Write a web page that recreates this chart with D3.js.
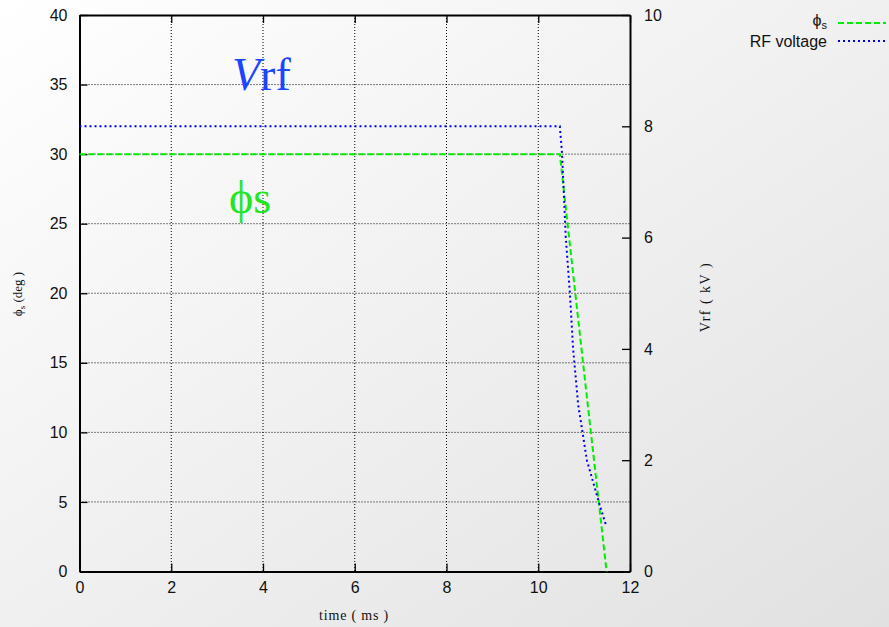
<!DOCTYPE html>
<html>
<head>
<meta charset="utf-8">
<script src="https://d3js.org/d3.v7.min.js"></script>
<style>
  body { margin: 0; padding: 0; }
  svg { display: block; }
</style>
</head>
<body>
<div id="chart"></div>
<script>

// synchronous phase (deg) vs time (ms)
var phiTime = [0, 10.47, 11.0, 11.49];
var phiDeg  = [30, 30, 14.3, 0];

// RF voltage (kV) vs time (ms)
var rfTime = [0, 10.47, 10.52, 10.6, 10.69, 10.76, 10.87, 11.06, 11.32, 11.47];
var rfKV   = [8, 8, 7.5, 6, 5, 4, 3, 2, 1.25, 0.85];

var xTicks  = [0, 2, 4, 6, 8, 10, 12];
var yTicks  = [0, 5, 10, 15, 20, 25, 30, 35, 40];
var y2Ticks = [0, 2, 4, 6, 8, 10];

var W = 889, H = 627;
var margin = {top: 15, right: 259, bottom: 55.5, left: 79.5},
    width = W - margin.left - margin.right,
    height = H - margin.top - margin.bottom;

var svg = d3.select("#chart").append("svg")
    .attr("width", W)
    .attr("height", H);

// background gradient
var grad = svg.append("defs").append("linearGradient")
    .attr("id", "bg")
    .attr("x1", "0%").attr("y1", "0%")
    .attr("x2", "100%").attr("y2", "100%");
grad.append("stop").attr("offset", "0%").attr("stop-color", "#ffffff");
grad.append("stop").attr("offset", "100%").attr("stop-color", "#e1e1e1");
svg.append("rect").attr("width", W).attr("height", H).attr("fill", "url(#bg)");

var g = svg.append("g")
    .attr("transform", "translate(" + margin.left + "," + margin.top + ")");

var x = d3.scaleLinear().domain([0, 12]).range([0, width]);
var y = d3.scaleLinear().domain([0, 40]).range([height, 0]);
var y2 = d3.scaleLinear().domain([0, 10]).range([height, 0]);

var tickFont = "'Liberation Sans', Arial, sans-serif";
var serif = "'Liberation Serif', 'Times New Roman', serif";

// grid lines
g.append("g").selectAll("line")
    .data(xTicks.filter(function(d) { return d > 0 && d < 12; }))
  .enter().append("line")
    .attr("x1", function(d) { return x(d); })
    .attr("x2", function(d) { return x(d); })
    .attr("y1", 0).attr("y2", height)
    .attr("stroke", "#000").attr("stroke-width", 1)
    .attr("stroke-dasharray", "1,2");

g.append("g").selectAll("line")
    .data(yTicks.filter(function(d) { return d > 0 && d < 40; }))
  .enter().append("line")
    .attr("x1", 0).attr("x2", width)
    .attr("y1", function(d) { return y(d); })
    .attr("y2", function(d) { return y(d); })
    .attr("stroke", "#000").attr("stroke-width", 1)
    .attr("stroke-dasharray", "1,2");

// axes (ticks pointing inward)
var xAxis = g.append("g")
    .attr("transform", "translate(0," + height + ")")
    .call(d3.axisBottom(x).tickValues(xTicks).tickSizeInner(-8).tickSizeOuter(0).tickPadding(10));
var xTop = g.append("g")
    .call(d3.axisTop(x).tickValues(xTicks).tickSizeInner(-8).tickSizeOuter(0).tickFormat(""));
var yAxis = g.append("g")
    .call(d3.axisLeft(y).tickValues(yTicks).tickSizeInner(-8).tickSizeOuter(0).tickPadding(12));
var y2Axis = g.append("g")
    .attr("transform", "translate(" + width + ",0)")
    .call(d3.axisRight(y2).tickValues(y2Ticks).tickSizeInner(-8).tickSizeOuter(0).tickPadding(14));

[xAxis, xTop, yAxis, y2Axis].forEach(function(a) {
  a.select(".domain").attr("stroke-width", 2);
  a.selectAll(".tick line").attr("stroke-width", 1.3);
  a.selectAll("text")
    .style("font-family", tickFont)
    .style("font-size", "16px")
    .attr("fill", "#111");
});

// plot lines
var phiData = phiTime.map(function(t, i) { return [t, phiDeg[i]]; });
var rfData = rfTime.map(function(t, i) { return [t, rfKV[i]]; });

g.append("path")
    .datum(phiData)
    .attr("fill", "none")
    .attr("stroke", "#00ee00")
    .attr("stroke-width", 2)
    .attr("stroke-dasharray", "6,3")
    .attr("d", d3.line()
        .x(function(d) { return x(d[0]); })
        .y(function(d) { return y(d[1]); }));

g.append("path")
    .datum(rfData)
    .attr("fill", "none")
    .attr("stroke", "#0000ee")
    .attr("stroke-width", 2)
    .attr("stroke-dasharray", "2,3")
    .attr("d", d3.line()
        .x(function(d) { return x(d[0]); })
        .y(function(d) { return y2(d[1]); }));

// in-plot labels
var vrf = svg.append("text")
    .attr("x", 232).attr("y", 90)
    .style("font-family", serif)
    .style("font-size", "46px")
    .attr("fill", "#1a46ff");
vrf.append("tspan").style("font-style", "italic").text("V");
vrf.append("tspan").text("rf");

svg.append("text")
    .attr("x", 229).attr("y", 213)
    .style("font-family", serif)
    .style("font-size", "46px")
    .attr("fill", "#22e622")
    .text("ϕs");

// axis titles
svg.append("text")
    .attr("x", 354).attr("y", 620)
    .attr("text-anchor", "middle")
    .style("font-family", serif)
    .style("font-size", "14px")
    .style("letter-spacing", "0.8px")
    .attr("fill", "#111")
    .text("time ( ms )");

var yl = svg.append("text")
    .attr("transform", "translate(22,294) rotate(-90)")
    .attr("text-anchor", "middle")
    .style("font-family", serif)
    .style("font-size", "13px")
    .attr("fill", "#111");
yl.append("tspan").text("ϕ");
yl.append("tspan").attr("dy", 3).style("font-size", "9px").text("s");
yl.append("tspan").attr("dy", -3).text(" (deg )");

svg.append("text")
    .attr("transform", "translate(710,297) rotate(-90)")
    .attr("text-anchor", "middle")
    .style("font-family", serif)
    .style("font-size", "14px")
    .style("letter-spacing", "1.5px")
    .attr("fill", "#111")
    .text("Vrf ( kV )");

// legend
var leg = svg.append("g");
var l1 = leg.append("text")
    .attr("x", 827).attr("y", 26)
    .attr("text-anchor", "end")
    .style("font-family", tickFont)
    .style("font-size", "16px")
    .attr("fill", "#111");
l1.append("tspan").text("ϕ");
l1.append("tspan").attr("dy", 3).style("font-size", "11px").text("s");

leg.append("line")
    .attr("x1", 838).attr("x2", 886).attr("y1", 23).attr("y2", 23)
    .attr("stroke", "#00ee00").attr("stroke-width", 2)
    .attr("stroke-dasharray", "6,3");

leg.append("text")
    .attr("x", 827).attr("y", 47)
    .attr("text-anchor", "end")
    .style("font-family", tickFont)
    .style("font-size", "16px")
    .attr("fill", "#111")
    .text("RF voltage");

leg.append("line")
    .attr("x1", 838).attr("x2", 886).attr("y1", 41).attr("y2", 41)
    .attr("stroke", "#0000ee").attr("stroke-width", 2)
    .attr("stroke-dasharray", "2,3");

</script>
</body>
</html>
